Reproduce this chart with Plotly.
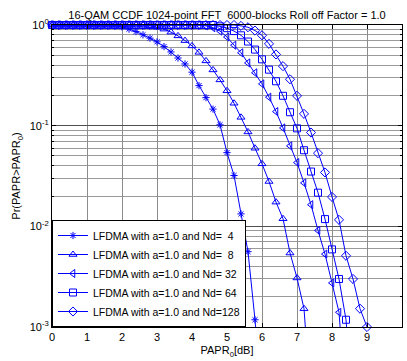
import plotly.graph_objects as go

# PAPR0 grid [dB]
papr_db = [0.0, 0.2, 0.4, 0.6, 0.8, 1.0, 1.2, 1.4, 1.6, 1.8,
           2.0, 2.2, 2.4, 2.6, 2.8, 3.0, 3.2, 3.4, 3.6, 3.8,
           4.0, 4.2, 4.4, 4.6, 4.8, 5.0, 5.2, 5.4, 5.6, 5.8,
           6.0, 6.2, 6.4, 6.6, 6.8, 7.0, 7.2, 7.4, 7.6, 7.8,
           8.0, 8.2, 8.4, 8.6, 8.8, 9.0]

# CCDF values per Nd
ccdf_nd4 = [1, 1, 1, 1, 1, 1, 1, 1, 1, 0.99,
            0.96, 0.91, 0.86, 0.80, 0.74, 0.68, 0.61, 0.54, 0.47, 0.41,
            0.34, 0.25, 0.19, 0.146, 0.102, 0.054, 0.032, 0.0133, 0.0056, 0.00118,
            0.000167]
ccdf_nd8 = [1, 1, 1, 1, 1, 1, 1, 1, 1, 1,
            1, 1, 1, 1, 0.98, 0.95, 0.91, 0.85, 0.78, 0.70,
            0.62, 0.535, 0.44, 0.358, 0.285, 0.222, 0.167, 0.121, 0.0867, 0.0597,
            0.0418, 0.0279, 0.0174, 0.0119, 0.00543, 0.00307, 0.00152, 0.000167]
ccdf_nd32 = [1, 1, 1, 1, 1, 1, 1, 1, 1, 1,
             1, 1, 1, 1, 1, 1, 1, 1, 1, 1,
             1, 1, 0.98, 0.94, 0.87, 0.76, 0.63, 0.53, 0.42, 0.335,
             0.26, 0.192, 0.138, 0.095, 0.063, 0.043, 0.027, 0.0164, 0.0091, 0.0053,
             0.00274, 0.0014, 0.000167]
ccdf_nd64 = [1, 1, 1, 1, 1, 1, 1, 1, 1, 1,
             1, 1, 1, 1, 1, 1, 1, 1, 1, 1,
             1, 1, 1, 1, 0.97, 0.93, 0.87, 0.79, 0.685, 0.57,
             0.456, 0.36, 0.276, 0.198, 0.136, 0.094, 0.057, 0.035, 0.0216, 0.0118,
             0.0059, 0.0030, 0.00118, 0.000167]
ccdf_nd128 = [1, 1, 1, 1, 1, 1, 1, 1, 1, 1,
              1, 1, 1, 1, 1, 1, 1, 1, 1, 1,
              1, 1, 1, 1, 1, 1, 1, 0.98, 0.95, 0.88,
              0.79, 0.65, 0.51, 0.39, 0.289, 0.198, 0.131, 0.0855, 0.0533, 0.0343,
              0.0196, 0.0116, 0.0051, 0.0030, 0.00152, 0.00100]

series_names = ["LFDMA with a=1.0 and Nd=\u00a0\u00a04",
                "LFDMA with a=1.0 and Nd=\u00a0\u00a08",
                "LFDMA with a=1.0 and Nd=\u00a032",
                "LFDMA with a=1.0 and Nd=\u00a064",
                "LFDMA with a=1.0 and Nd=128"]
series_values = [ccdf_nd4, ccdf_nd8, ccdf_nd32, ccdf_nd64, ccdf_nd128]
series_symbols = ["asterisk-open", "triangle-up-open", "triangle-left-open",
                  "square-open", "diamond-open"]
series_sizes = [6, 7, 7, 7, 7]

y_tickvals = [1e-3, 1e-2, 1e-1, 1]
y_ticktext = ["10<sup>-3</sup>", "10<sup>-2</sup>", "10<sup>-1</sup>", "10<sup>0</sup>"]
x_tickvals = [0, 1, 2, 3, 4, 5, 6, 7, 8, 9, 10]

BLUE = "rgb(0,0,255)"
FONT = "Liberation Sans, Arial, sans-serif"

fig = go.Figure()
for name, vals, sym, sz in zip(series_names, series_values, series_symbols, series_sizes):
    fig.add_trace(go.Scatter(
        x=papr_db[:len(vals)], y=vals, name=name, mode="lines+markers",
        line=dict(color=BLUE, width=1),
        marker=dict(symbol=sym, size=sz, color=BLUE, line=dict(color=BLUE, width=1)),
        cliponaxis=False,
    ))

fig.update_layout(
    width=407, height=361,
    margin=dict(l=52, r=5, t=25, b=34),
    paper_bgcolor="white", plot_bgcolor="white",
    font=dict(family=FONT, size=11, color="black"),
    title=dict(text="16-QAM CCDF 1024-point FFT\u00a0\u00a06000-blocks Roll off Factor = 1.0",
               x=0.5, xref="paper", xanchor="center",
               y=1, yref="paper", yanchor="bottom", pad=dict(b=6),
               font=dict(size=11, family=FONT)),
    showlegend=True,
    legend=dict(x=0, y=0, xanchor="left", yanchor="bottom",
                bgcolor="white", bordercolor="black", borderwidth=1,
                font=dict(size=10.5, family=FONT), itemwidth=30,
                tracegroupgap=0),
)

fig.update_xaxes(
    range=[0, 10], tickvals=x_tickvals, ticks="inside", ticklen=4,
    tickcolor="black", showline=True, linecolor="black", linewidth=1, mirror="ticks",
    showgrid=True, gridcolor="#8c8c8c", gridwidth=1, zeroline=False,
    title=dict(text="PAPR<sub>0</sub>[dB]", standoff=4, font=dict(size=11)),
    tickfont=dict(size=11),
)
fig.update_yaxes(
    type="log", range=[-3, 0], tickvals=y_tickvals, ticktext=y_ticktext,
    ticks="inside", ticklen=4, tickcolor="black",
    showline=True, linecolor="black", linewidth=1, mirror="ticks",
    showgrid=True, gridcolor="#505050", gridwidth=1, zeroline=False,
    minor=dict(dtick="D1", showgrid=True, gridcolor="#9a9a9a", gridwidth=1,
               ticks="inside", ticklen=2, tickcolor="black"),
    title=dict(text="Pr(PAPR>PAPR<sub>0</sub>)", standoff=6, font=dict(size=11)),
    tickfont=dict(size=11),
)

fig.write_html("out.html")
